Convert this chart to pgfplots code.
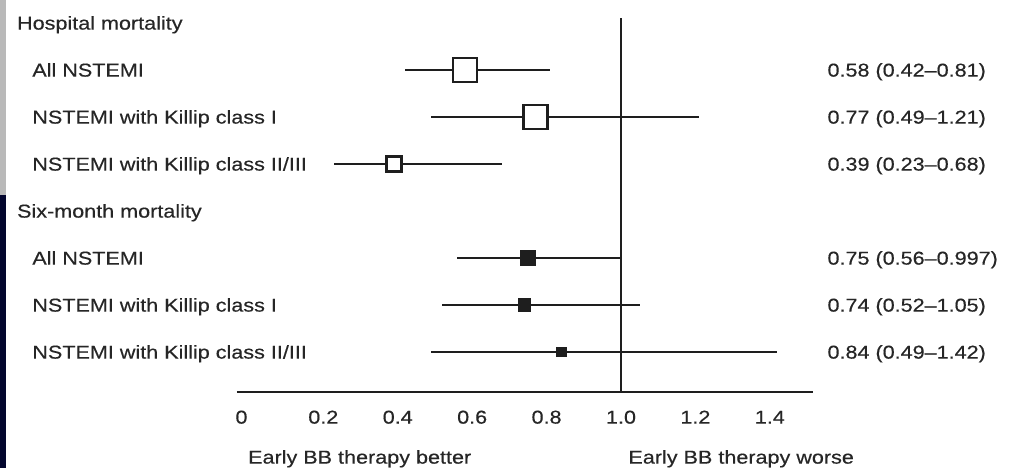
\documentclass[border=0pt]{standalone}
\usepackage{fontspec}
\setmainfont{Liberation Sans}[FakeStretch=1.16, FakeBold=0.4]
\usepackage{pgfplots}
\pgfplotsset{compat=1.18}
\definecolor{ink}{HTML}{1E1E1E}
\definecolor{txt}{HTML}{262626}
\definecolor{slide}{HTML}{03062E}
\definecolor{stripe}{HTML}{B9B9B9}
\pgfplotsset{
  ci/.style={ink, only marks, mark=square*,
    error bars/x dir=both, error bars/x explicit, error bars/error mark=none,
    error bars/error bar style={line width=1.1pt, ink}},
  hosp/.style={ci, line width=1.2pt,
    mark options={fill=white, draw=ink, line width=1.2pt}},
  six/.style={ci, line width=0.6pt,
    mark options={fill=ink, draw=ink, line width=0.6pt}},
}
\tikzset{lab/.style={anchor=base west, yshift=-3.3pt, inner sep=0pt, text=txt}}
\begin{document}
\begin{tikzpicture}[font=\fontsize{9.3pt}{11pt}\selectfont]
\useasboundingbox (-118.5pt,-38pt) rectangle (388.5pt,196pt);
\fill[stripe] (-118.5pt,196pt) rectangle (-115.5pt,98.5pt);
\fill[slide] (-118.5pt,98.5pt) rectangle (-115.5pt,-38pt);
\begin{axis}[
  at={(0,0)}, anchor=south west,
  scale only axis, width=288pt, height=187pt,
  xmin=-0.032, xmax=1.516, ymin=0.149, ymax=8.106,
  axis x line*=bottom, axis y line=none,
  axis line style={ink, line width=1.3pt},
  xtick={-0.02,0.2,0.4,0.6,0.8,1,1.2,1.4},
  xticklabels={0,0.2,0.4,0.6,0.8,1.0,1.2,1.4},
  major tick length=0pt, ytick=\empty,
  xticklabel style={anchor=base, inner sep=0pt, yshift=-15.8pt, text=txt},
  clip=false,
]
% line of no effect
\addplot[ink, line width=1pt] coordinates {(1,0.149) (1,8.106)};

% hospital mortality: OR (95% CI)
\addplot[hosp, mark size=6pt]   coordinates {(0.58,7) += (0.23,0) -= (0.16,0)};
\addplot[hosp, mark size=6pt]   coordinates {(0.77,6) += (0.44,0) -= (0.28,0)};
\addplot[hosp, mark size=3.7pt] coordinates {(0.39,5) += (0.29,0) -= (0.16,0)};

% six-month mortality
\addplot[six, mark size=3.8pt] coordinates {(0.75,3) += (0.247,0) -= (0.19,0)};
\addplot[six, mark size=3pt]   coordinates {(0.74,2) += (0.31,0) -= (0.22,0)};
\addplot[six, mark size=2.3pt, error bars/error bar style={line width=0.8pt}]
  coordinates {(0.84,1) += (0.58,0) -= (0.35,0)};

\node[lab] at (axis cs:-0.624,8) {Hospital mortality};
\node[lab] at (axis cs:-0.583,7) {All NSTEMI};
\node[lab] at (axis cs:-0.583,6) {NSTEMI with Killip class I};
\node[lab] at (axis cs:-0.583,5) {NSTEMI with Killip class II/III};
\node[lab] at (axis cs:-0.624,4) {Six-month mortality};
\node[lab] at (axis cs:-0.583,3) {All NSTEMI};
\node[lab] at (axis cs:-0.583,2) {NSTEMI with Killip class I};
\node[lab] at (axis cs:-0.583,1) {NSTEMI with Killip class II/III};

\node[lab] at (axis cs:1.554,7) {0.58 (0.42--0.81)};
\node[lab] at (axis cs:1.554,6) {0.77 (0.49--1.21)};
\node[lab] at (axis cs:1.554,5) {0.39 (0.23--0.68)};
\node[lab] at (axis cs:1.554,3) {0.75 (0.56--0.997)};
\node[lab] at (axis cs:1.554,2) {0.74 (0.52--1.05)};
\node[lab] at (axis cs:1.554,1) {0.84 (0.49--1.42)};

\node[lab] at (axis cs:-0.003,-1.234) {Early BB therapy better};
\node[lab] at (axis cs:1.019,-1.234) {Early BB therapy worse};
\end{axis}
\end{tikzpicture}
\end{document}
